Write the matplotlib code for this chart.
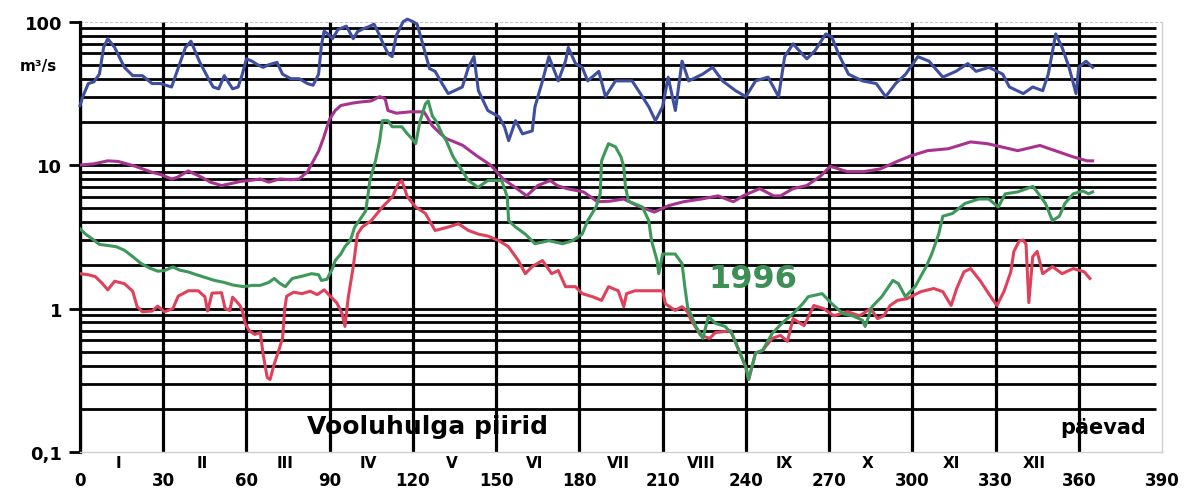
import matplotlib
matplotlib.use("Agg")
import matplotlib.pyplot as plt

# Daily discharge (m3/s) by day of year
max_days = [0, 1, 3, 5, 7, 8.5, 10, 12.5, 16, 19, 22.5, 26, 29, 33, 35.5, 38, 40, 43, 46, 48, 50, 52,
            55, 57, 58.5, 60, 62, 64, 66, 68, 71, 73, 76, 79, 82, 84, 86, 87, 88, 90, 91, 93, 96, 98.5,
            100, 102, 104, 106, 108, 109, 111, 112.5, 114, 116.5, 118, 120, 121.5, 124, 126, 128, 130.5,
            132.7, 135, 137.8, 140, 142, 143.6, 147, 151, 153, 154.5, 157, 159.5, 163, 164, 166.7, 169,
            172.4, 175, 176, 178.6, 181, 183, 187, 189.4, 193, 199, 202.7, 205, 207.4, 210, 212, 214.6,
            217, 219.4, 224.4, 228, 231.6, 236.3, 240, 243.5, 248, 251.8, 254, 257, 260.5, 262, 265,
            268.8, 271, 273.4, 277, 282, 287, 290.4, 294, 297.6, 302, 306, 311, 315.7, 320, 323, 327.6,
            332.6, 335, 340, 343.4, 347, 349, 351.7, 354, 356.5, 359, 360, 362.6, 365]
max_vals = [26, 30, 37, 38, 43, 66, 76, 66, 48, 42, 42, 37, 37, 35, 48, 66, 73, 53, 41, 35, 34, 42,
            34, 35, 43, 55, 53, 50, 48, 50, 52, 43, 40, 40, 37, 36, 43, 68, 86, 80, 76, 88, 93, 76,
            85, 89, 92, 96, 80, 72, 60, 57, 80, 100, 104, 100, 96, 65, 47, 45, 37,
            31.5, 33, 35, 48, 57, 33, 24, 21.7, 18.5, 14.8, 20.4, 16.5, 17.3, 25.5, 38.6, 57,
            38.6, 53, 66, 51, 48, 38.6, 45, 30, 38.6, 38.6, 30, 25.5, 20.4, 25.5, 41, 24,
            53, 38.6, 43, 48, 38.6, 33, 30, 38.6, 41, 30, 57, 70, 59, 55, 63,
            82, 78, 59.5, 43, 38.6, 37, 30, 37, 43, 57, 53, 41, 45, 51, 45, 48,
            43, 35, 31.5, 35, 33, 43, 82, 66, 48, 31.5, 48, 53, 48]

mean_days = [0, 5, 10, 13.7, 20, 26, 29, 33, 35, 39, 44, 47, 51, 54, 58, 61, 65, 68, 72, 76, 79, 82,
             84, 86, 87.7, 90, 92, 94, 98, 101, 105, 108, 110, 111, 114, 119, 124, 127, 130, 132, 135,
             138, 143, 148, 152.5, 157.5, 161, 165, 169.5, 172, 175.5, 181.5, 186.5, 191, 196, 201,
             207, 212, 217.5, 224, 230, 235.5, 239, 245, 250, 252.5, 257, 262, 267, 270.5, 276.5,
             282.5, 288.5, 294.5, 299.5, 305.5, 313, 321, 327, 332, 338, 346, 352.5, 358, 363, 365]
mean_vals = [10, 10.2, 10.7, 10.6, 9.8, 8.9, 8.6, 8.0, 8.2, 9.1, 8.2, 7.6, 7.2, 7.4, 7.7, 7.8, 8.0,
             7.6, 8.0, 7.9, 8.0, 9.0, 10.6, 12.5, 15.3, 21, 24, 26, 27, 27.5, 28, 30, 29, 24, 23,
             23.5, 23.5, 18.8, 16.5, 15.3, 14.5, 13.7, 11.6, 10, 8.0, 6.85, 6.1, 7.2, 7.8, 7.2, 6.85,
             6.5, 5.55, 5.6, 5.8, 5.2, 4.7, 5.2, 5.55, 5.8, 6.1, 5.55, 6.1, 6.85, 6.1, 6.1, 6.85,
             7.2, 8.4, 9.8, 9.0, 9.0, 9.4, 10.6, 11.6, 12.6, 13, 14.5, 14.1, 13.4, 12.6, 13.7, 12.4,
             11.4, 10.7, 10.7]

y1996_days = [0, 2, 4, 7, 10, 13, 16, 19, 22, 25, 28, 30.5, 33.5, 36, 39, 42, 45, 48.5, 52, 55, 59,
              62, 65, 68, 70, 72, 74, 76.5, 80, 83.5, 86, 87, 89, 91, 92, 94, 95.5, 97.5, 99, 101,
              103, 104.5, 106.5, 108, 109, 111, 112.5, 116, 118, 120, 121, 122.5, 124.5, 125.5, 127,
              128.5, 130.5, 132, 134.5, 137.8, 140, 143.5, 147, 152, 154, 154.5, 157, 160.5, 164,
              169, 174, 177.5, 181, 183, 186, 187.5, 188, 189, 190.5, 193, 195, 196, 196.6, 197.7,
              202.7, 205, 206, 208, 208.6, 210, 214.5, 217, 218, 219, 222, 224.5, 226.5, 229,
              232.5, 235, 237.5, 240, 241, 243.5, 246, 249.5, 253, 257, 260.5, 262.5, 267.5, 271,
              275, 278.5, 282, 283, 285.5, 289, 293, 295, 297.5, 301, 305, 307, 309.5, 311, 314.5,
              319, 324, 327.5, 331, 333.5, 338, 343.5, 345.5, 348, 350.5, 353, 355, 358, 361.5,
              363.5, 365]
y1996_vals = [3.6, 3.3, 3.1, 2.8, 2.75, 2.7, 2.55, 2.3, 2.06, 1.92, 1.82, 1.84, 1.95, 1.85, 1.8,
              1.72, 1.65, 1.57, 1.52, 1.46, 1.42, 1.45, 1.45, 1.52, 1.62, 1.5, 1.42, 1.62, 1.68,
              1.75, 1.72, 1.57, 1.6, 1.9, 2.16, 2.4, 2.7, 3.0, 3.7, 4.2, 4.8, 7.8, 10.7, 14.7, 20.4,
              20.4, 18.5, 18.5, 16.5, 15.0, 14.1, 20, 26.7, 28, 22, 20, 16.5, 14.8, 11.4, 9.1, 7.8,
              7.0, 7.8, 7.8, 6.0, 4.1, 3.7, 3.3, 2.83, 2.97, 2.83, 2.97, 3.3, 4.1, 5.1, 6.3, 10.7,
              12, 14.1, 13.4, 11.4, 9.7, 7.1, 5.6, 5.1, 4.1, 2.97, 2.16, 1.75, 2.4, 2.4, 2.06, 1.42,
              1.03, 0.75, 0.62, 0.88, 0.79, 0.75, 0.67, 0.51, 0.39, 0.32, 0.49, 0.51, 0.67, 0.79,
              0.92, 1.08, 1.21, 1.27, 1.08, 0.92, 0.89, 0.83, 0.75, 1.03, 1.21, 1.57, 1.49, 1.21,
              1.42, 1.96, 2.4, 3.3, 4.4, 4.6, 5.4, 5.8, 5.8, 5.1, 6.3, 6.5, 7.1, 6.3, 5.4, 4.1, 4.4,
              5.4, 6.3, 6.6, 6.3, 6.5]

min_days = [0, 3, 5.5, 8, 10, 12.5, 16, 19, 20.6, 22.5, 26, 28, 30.5, 33.5, 35.4, 39, 42.6, 45, 46,
            47.6, 51, 52.3, 54, 55, 57.5, 58.5, 59.5, 61, 63, 65, 66, 67.5, 68.5, 70, 71.5, 73, 73.8,
            74.5, 77, 80, 83, 85.5, 88, 90, 92.5, 94.5, 95.5, 96.7, 98.5, 100, 101.7, 105, 109,
            112.6, 114.7, 116, 118, 121, 124.5, 128, 132.8, 136.4, 140, 143.6, 147, 151, 154.4, 158,
            160.5, 163, 166.7, 170, 172.4, 175, 178.6, 181, 184.7, 188, 190.5, 194, 196, 197, 200,
            205, 210, 211, 214.5, 217, 219, 220, 223.7, 227, 229, 232, 234.5, 237.5, 240, 241,
            243.5, 246, 249.5, 252.5, 255, 257, 261, 264.5, 268, 271.7, 276.7, 281, 285, 287.5,
            289.7, 292, 294.7, 298, 303, 307.7, 311, 314, 316, 318.6, 321, 324.7, 328, 330.5, 333,
            335.5, 336.6, 338.5, 340, 341, 342, 343.4, 345, 347, 350.5, 354, 358, 362, 364]
min_vals = [1.75, 1.72, 1.67, 1.5, 1.35, 1.55, 1.49, 1.32, 1.03, 0.95, 0.96, 1.04, 0.95, 1.0, 1.22,
            1.33, 1.33, 1.21, 0.96, 1.28, 1.29, 1.0, 0.97, 1.2, 1.06, 0.97, 0.79, 0.7, 0.66, 0.68,
            0.48, 0.33, 0.32, 0.41, 0.5, 0.62, 1.0, 1.22, 1.3, 1.27, 1.32, 1.25, 1.35, 1.23, 1.1,
            0.92, 0.75, 1.2, 1.96, 3.3, 3.7, 4.1, 5.1, 6.0, 7.4, 7.8, 6.0, 5.1, 4.6, 3.5, 3.7, 3.9,
            3.5, 3.3, 3.2, 2.97, 2.7, 2.16, 1.75, 1.96, 2.16, 1.75, 1.84, 1.42, 1.42, 1.27, 1.21,
            1.14, 1.42, 1.33, 1.03, 1.27, 1.33, 1.33, 1.33, 1.08, 0.97, 1.03, 0.95, 0.85, 0.65,
            0.62, 0.68, 0.69, 0.7, 0.51, 0.39, 0.32, 0.49, 0.51, 0.62, 0.65, 0.59, 0.85, 0.76,
            1.05, 1.0, 0.89, 0.95, 0.89, 1.0, 0.85, 0.89, 1.05, 1.14, 1.17, 1.31, 1.38, 1.31, 1.05,
            1.38, 1.8, 1.9, 1.54, 1.23, 1.05, 1.31, 1.8, 2.5, 2.95, 3.0, 2.8, 1.1, 2.3, 2.5, 1.75,
            1.96, 1.75, 1.9, 1.8, 1.62]

day_ticks = list(range(0, 391, 30))
month_labels = ["I", "II", "III", "IV", "V", "VI", "VII", "VIII", "IX", "X", "XI", "XII"]
y_ticks = [0.1, 1, 10, 100]
y_ticklabels = ["0,1", "1", "10", "100"]

W, H = 1184, 489
fig = plt.figure(figsize=(W / 100, H / 100), dpi=100)
fig.patch.set_facecolor("white")
ax = fig.add_axes([80 / W, 36 / H, 1082 / W, 430.4 / H])
ax.set_yscale("log")
ax.set_xlim(0, 390)
ax.set_ylim(0.1, 100)

# heavy log grid
grid_levels = [m * 10.0 ** e for e in (-1, 0, 1) for m in range(2, 10)] + [1, 10]
ax.hlines(grid_levels, 0, 388, colors="black", linewidth=2.0, zorder=1)
ax.vlines(day_ticks[:-1], 0.1, 100, colors="black", linewidth=2.3, zorder=1)
ax.hlines([100], 0, 390, colors="#b8b8c8", linewidth=1.2, linestyles=(0, (2, 1)), zorder=1)

ax.plot(max_days, max_vals, color="#3d4f9e", linewidth=2.2, zorder=3, clip_on=False)
ax.plot(mean_days, mean_vals, color="#a8338e", linewidth=2.2, zorder=3)
ax.plot(min_days, min_vals, color="#e0415a", linewidth=2.2, zorder=3)
ax.plot(y1996_days, y1996_vals, color="#3e985a", linewidth=2.2, zorder=4)

for side in ("top", "right", "bottom"):
    ax.spines[side].set_color("#cfcfcf")
    ax.spines[side].set_linewidth(1.0)
ax.spines["top"].set_visible(False)
ax.spines["left"].set_linewidth(2.3)
ax.spines["left"].set_color("black")

ax.set_yticks(y_ticks)
ax.set_yticklabels(y_ticklabels, fontsize=13, fontweight="bold")
ax.yaxis.set_minor_locator(matplotlib.ticker.NullLocator())
ax.tick_params(axis="y", length=8, width=2, pad=5)

ax.set_xticks(day_ticks)
ax.set_xticklabels([str(d) for d in day_ticks], fontsize=12, fontweight="bold")
ax.tick_params(axis="x", length=0, pad=14)

for i, name in enumerate(month_labels):
    ax.annotate(name, xy=(14 + 30 * i, 0), xycoords=("data", "axes fraction"),
                xytext=(0, -11), textcoords="offset pixels", ha="center", va="center",
                fontsize=11, fontweight="bold")

fig.text(38 / W, 1 - 67 / H, "m³/s", ha="center", va="center", fontsize=11, fontweight="bold")
fig.text(307 / W, 1 - 427 / H, "Vooluhulga piirid", ha="left", va="center",
         fontsize=18, fontweight="bold")
fig.text(1060 / W, 1 - 428 / H, "päevad", ha="left", va="center", fontsize=15, fontweight="bold")
ax.text(226.5, 1.62, "1996", color="#3d8f55", fontsize=23, fontweight="bold",
        ha="left", va="center", zorder=5)

fig.savefig("out.png", dpi=100)
